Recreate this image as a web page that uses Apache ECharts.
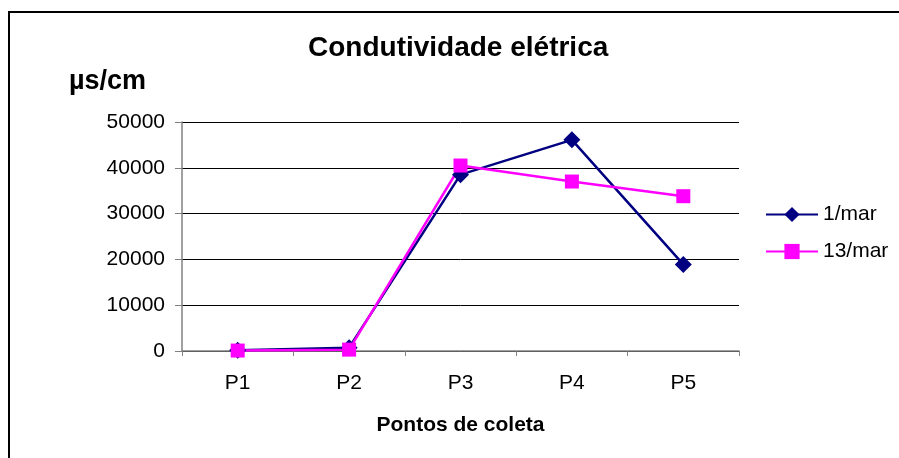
<!DOCTYPE html>
<html>
<head>
<meta charset="utf-8">
<script src="https://cdn.jsdelivr.net/npm/echarts@6/dist/echarts.min.js"></script>
<style>
  html, body { margin: 0; padding: 0; background: #fff; }
  #chart { width: 899px; height: 458px; }
</style>
</head>
<body>
<div id="chart"></div>
<script>
// pontos de coleta
var categories = ['P1', 'P2', 'P3', 'P4', 'P5'];
// condutividade (µs/cm) em cada data
var mar1 = [150, 730, 38500, 46100, 18900];
var mar13 = [100, 300, 40500, 37000, 33800];
var yTicks = [0, 10000, 20000, 30000, 40000, 50000];

var font = 'Liberation Sans, Arial, sans-serif';
var chart = echarts.init(document.getElementById('chart'), null, { renderer: 'canvas' });

var option = {
  backgroundColor: '#fff',
  animation: false,
  title: [{
    text: 'Condutividade elétrica',
    left: 308,
    top: 34,
    padding: 0,
    textStyle: { fontFamily: font, fontSize: 28, fontWeight: 'bold', color: '#000' }
  }, {
    text: 'µs/cm',
    left: 69,
    top: 68,
    padding: 0,
    textStyle: { fontFamily: font, fontSize: 27, fontWeight: 'bold', color: '#000' }
  }],
  graphic: [{
    type: 'rect',
    shape: { x: 9, y: 12, width: 1000, height: 1000 },
    style: { fill: 'none', stroke: '#000', lineWidth: 2 },
    silent: true
  }],
  legend: {
    orient: 'vertical',
    left: 760,
    top: 199,
    itemWidth: 52,
    itemHeight: 19,
    itemGap: 16,
    textStyle: { fontFamily: font, fontSize: 21, color: '#000' },
    data: ['1/mar', '13/mar']
  },
  grid: { left: 182, right: 160, top: 122, bottom: 107, containLabel: false },
  xAxis: {
    type: 'category',
    data: categories,
    boundaryGap: true,
    name: 'Pontos de coleta',
    nameLocation: 'middle',
    nameGap: 64,
    nameTextStyle: { fontFamily: font, fontSize: 21, fontWeight: 'bold', color: '#000' },
    axisLine: { lineStyle: { color: '#808080', width: 1.5 } },
    axisTick: { show: true, length: 5, lineStyle: { color: '#808080' } },
    axisLabel: { fontFamily: font, fontSize: 21, color: '#000', margin: 22 }
  },
  yAxis: {
    type: 'value',
    min: yTicks[0],
    max: yTicks[yTicks.length - 1],
    interval: 10000,
    axisLine: { show: true, lineStyle: { color: '#808080', width: 1.5 } },
    axisTick: { show: true, length: 7, lineStyle: { color: '#808080' } },
    axisLabel: {
      fontFamily: font, fontSize: 21, color: '#000', margin: 17,
      formatter: function (v) { return String(v); }
    },
    splitLine: { show: true, lineStyle: { color: '#000', width: 1 } }
  },
  series: [{
    name: '1/mar',
    type: 'line',
    data: mar1,
    symbol: 'diamond',
    symbolSize: 17,
    color: '#000080',
    lineStyle: { width: 2.5, color: '#000080' },
    itemStyle: { color: '#000080' }
  }, {
    name: '13/mar',
    type: 'line',
    data: mar13,
    symbol: 'rect',
    symbolSize: 14,
    color: '#ff00ff',
    lineStyle: { width: 2.5, color: '#ff00ff' },
    itemStyle: { color: '#ff00ff' }
  }]
};

chart.setOption(option);
</script>
</body>
</html>
